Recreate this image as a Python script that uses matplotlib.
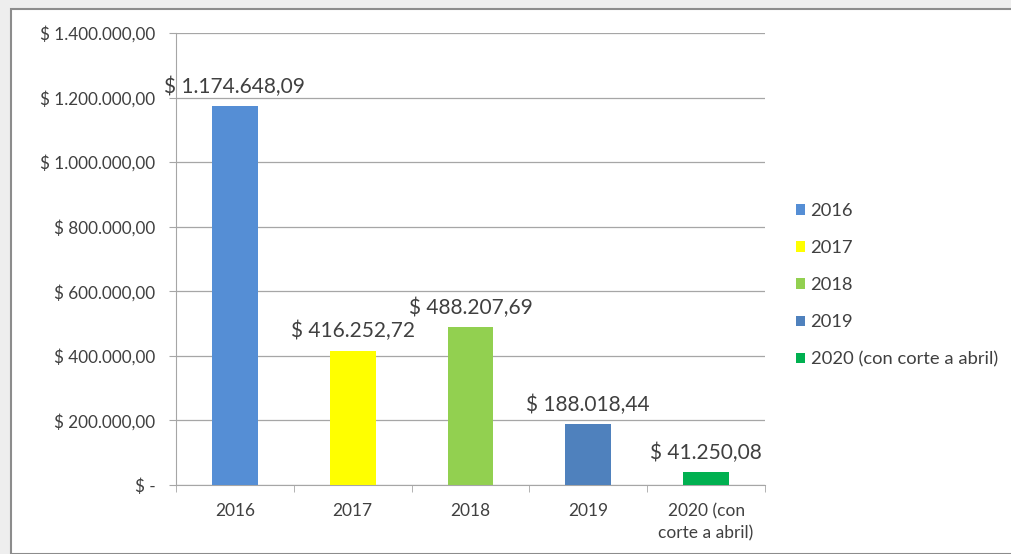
import matplotlib
matplotlib.use('Agg')
import matplotlib.pyplot as plt
from matplotlib.patches import Rectangle
from matplotlib.ticker import FuncFormatter

plt.rcParams['font.family'] = ['Lato', 'DejaVu Sans']

categories = ['2016', '2017', '2018', '2019', '2020 (con\ncorte a abril)']
legend_labels = ['2016', '2017', '2018', '2019', '2020 (con corte a abril)']
values = [1174648.09, 416252.72, 488207.69, 188018.44, 41250.08]
colors = ['#558ED5', '#FFFF00', '#92D050', '#4F81BD', '#00B050']
yticks = [0, 200000, 400000, 600000, 800000, 1000000, 1200000, 1400000]


def money(v, pos=None):
    if v == 0:
        return '$ -'
    s = f'{v:,.2f}'
    s = s.replace(',', 'X').replace('.', ',').replace('X', '.')
    return '$ ' + s


fig = plt.figure(figsize=[10.12, 5.54], dpi=100)
fig.patch.set_facecolor('#eeeeee')
fig.patches.append(Rectangle((11 / 1012, 0), 1.0, 1 - 9 / 554, transform=fig.transFigure,
                             facecolor='white', edgecolor='#8c8c8c', linewidth=1.5, zorder=-5))

ax = fig.add_axes([176 / 1012, 1 - 485 / 554, (765 - 176) / 1012, (485 - 33) / 554])
ax.set_zorder(2)
ax.set_facecolor('none')
x = list(range(len(values)))
bars = ax.bar(x, values, width=0.39, color=colors, zorder=3)

for i, v in enumerate(values):
    ax.text(i, v + 28000, money(v), ha='center', va='bottom', fontsize=15, color='#404040')

ax.set_ylim(0, 1400000)
ax.set_xlim(-0.5, len(values) - 0.5)
ax.set_yticks(yticks)
ax.yaxis.set_major_formatter(FuncFormatter(money))
ax.grid(axis='y', color='#a6a6a6', linewidth=0.9, zorder=0)
ax.set_xticks(x)
ax.set_xticklabels(categories, linespacing=1.5)
ax.set_xticks([i + 0.5 for i in range(-1, len(values))], minor=True)
ax.tick_params(axis='x', which='major', length=0, pad=13, labelsize=12.5, labelcolor='#404040')
ax.tick_params(axis='x', which='minor', length=5, color='#a6a6a6', direction='out')
ax.tick_params(axis='y', length=5, color='#a6a6a6', pad=10, labelsize=12.3, labelcolor='#404040')

for s in ['top', 'right']:
    ax.spines[s].set_visible(False)
ax.spines['left'].set_color('#a6a6a6')
ax.spines['bottom'].set_color('#a6a6a6')

leg = ax.legend(bars, legend_labels, loc='center left', bbox_to_anchor=(1.04, 0.442),
                frameon=False, fontsize=13.2, handlelength=0.5, handleheight=0.5,
                handletextpad=0.3, labelspacing=1.15, borderaxespad=0)
for t in leg.get_texts():
    t.set_color('#404040')

fig.savefig('out.png', dpi=100, facecolor=fig.get_facecolor())
